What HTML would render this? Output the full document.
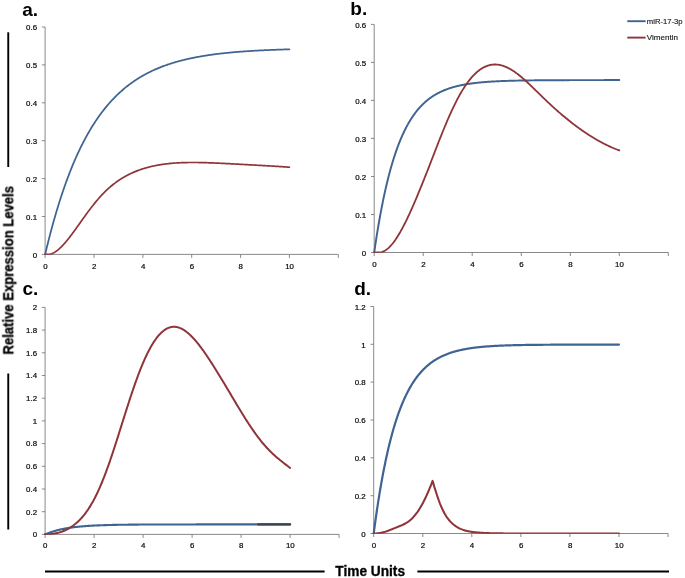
<!DOCTYPE html>
<html><head><meta charset="utf-8"><title>Figure</title>
<style>html,body{margin:0;padding:0;background:#fff}body{width:685px;height:578px;overflow:hidden;font-family:"Liberation Sans",sans-serif}</style>
</head><body>
<svg width="685" height="578" viewBox="0 0 685 578" style="display:block">
<rect width="685" height="578" fill="#fff"/>
<g stroke="#7c7c7c" stroke-width="0.9" fill="none">
<path d="M45.1,27.0 V254.4 H338.3"/>
<path d="M41.9,254.4 H45.1"/>
<path d="M41.9,216.5 H45.1"/>
<path d="M41.9,178.6 H45.1"/>
<path d="M41.9,140.7 H45.1"/>
<path d="M41.9,102.8 H45.1"/>
<path d="M41.9,64.9 H45.1"/>
<path d="M41.9,27.0 H45.1"/>
<path d="M45.1,254.4 V257.9"/>
<path d="M94.0,254.4 V257.9"/>
<path d="M142.9,254.4 V257.9"/>
<path d="M191.7,254.4 V257.9"/>
<path d="M240.6,254.4 V257.9"/>
<path d="M289.4,254.4 V257.9"/>
<path d="M338.3,254.4 V257.9"/>
</g>
<g font-family="Liberation Sans, sans-serif" font-size="7.9" fill="#0a0a0a" stroke="#0a0a0a" stroke-width="0.22" style="filter:grayscale(1)">
<text x="37.1" y="257.6" text-anchor="end">0</text>
<text x="37.1" y="219.7" text-anchor="end">0.1</text>
<text x="37.1" y="181.8" text-anchor="end">0.2</text>
<text x="37.1" y="143.9" text-anchor="end">0.3</text>
<text x="37.1" y="106.0" text-anchor="end">0.4</text>
<text x="37.1" y="68.1" text-anchor="end">0.5</text>
<text x="37.1" y="30.2" text-anchor="end">0.6</text>
<text x="45.4" y="269.0" text-anchor="middle">0</text>
<text x="94.2" y="269.0" text-anchor="middle">2</text>
<text x="143.1" y="269.0" text-anchor="middle">4</text>
<text x="191.9" y="269.0" text-anchor="middle">6</text>
<text x="240.8" y="269.0" text-anchor="middle">8</text>
<text x="289.6" y="269.0" text-anchor="middle">10</text>
</g>
<clipPath id="cpa"><rect x="42.1" y="15.0" width="299.2" height="239.7"/></clipPath>
<g clip-path="url(#cpa)">
<path d="M45.15,254.40 L45.76,251.82 L46.37,249.27 L46.99,246.75 L47.60,244.27 L48.21,241.81 L48.82,239.39 L49.44,237.00 L50.05,234.63 L50.66,232.30 L51.27,229.99 L51.89,227.72 L52.50,225.47 L53.11,223.25 L53.72,221.06 L54.33,218.90 L54.95,216.76 L55.56,214.65 L56.17,212.56 L56.78,210.51 L57.40,208.47 L58.01,206.47 L58.62,204.49 L59.23,202.53 L59.84,200.60 L60.46,198.69 L61.07,196.80 L61.68,194.94 L62.29,193.10 L62.91,191.29 L63.52,189.50 L64.13,187.73 L64.74,185.98 L65.36,184.25 L65.97,182.55 L66.58,180.87 L67.19,179.21 L67.80,177.57 L68.42,175.94 L69.03,174.34 L69.64,172.76 L70.25,171.20 L70.87,169.66 L71.48,168.14 L72.09,166.64 L72.70,165.16 L73.31,163.69 L73.93,162.24 L74.54,160.81 L75.15,159.40 L75.76,158.01 L76.38,156.63 L76.99,155.27 L77.60,153.93 L78.21,152.61 L78.83,151.30 L79.44,150.01 L80.05,148.73 L80.66,147.47 L81.27,146.23 L81.89,145.00 L82.50,143.79 L83.11,142.59 L83.72,141.40 L84.34,140.24 L84.95,139.08 L85.56,137.94 L86.17,136.82 L86.79,135.71 L87.40,134.61 L88.01,133.53 L88.62,132.46 L89.23,131.40 L89.85,130.36 L90.46,129.33 L91.07,128.31 L91.68,127.31 L92.30,126.31 L92.91,125.33 L93.52,124.37 L94.13,123.41 L94.74,122.47 L95.36,121.54 L95.97,120.62 L96.58,119.71 L97.19,118.81 L97.81,117.92 L98.42,117.05 L99.03,116.19 L99.64,115.33 L100.26,114.49 L100.87,113.66 L101.48,112.84 L102.09,112.03 L102.70,111.23 L103.32,110.43 L103.93,109.65 L104.54,108.88 L105.15,108.12 L105.77,107.37 L106.38,106.63 L106.99,105.89 L107.60,105.17 L108.21,104.45 L108.83,103.75 L109.44,103.05 L110.05,102.36 L110.66,101.68 L111.28,101.01 L111.89,100.34 L112.50,99.69 L113.11,99.04 L113.73,98.40 L114.34,97.77 L114.95,97.15 L115.56,96.54 L116.17,95.93 L116.79,95.33 L117.40,94.74 L118.01,94.15 L118.62,93.57 L119.24,93.00 L119.85,92.44 L120.46,91.88 L121.07,91.34 L121.69,90.79 L122.30,90.26 L122.91,89.73 L123.52,89.21 L124.13,88.69 L124.75,88.18 L125.36,87.68 L125.97,87.18 L126.58,86.69 L127.20,86.21 L127.81,85.73 L128.42,85.26 L129.03,84.79 L129.64,84.33 L130.26,83.88 L130.87,83.43 L131.48,82.98 L132.09,82.54 L132.71,82.11 L133.32,81.69 L133.93,81.26 L134.54,80.85 L135.16,80.44 L135.77,80.03 L136.38,79.63 L136.99,79.23 L137.60,78.84 L138.22,78.46 L138.83,78.07 L139.44,77.70 L140.05,77.33 L140.67,76.96 L141.28,76.60 L141.89,76.24 L142.50,75.88 L143.11,75.54 L143.73,75.19 L144.34,74.85 L144.95,74.51 L145.56,74.18 L146.18,73.85 L146.79,73.53 L147.40,73.21 L148.01,72.90 L148.63,72.58 L149.24,72.28 L149.85,71.97 L150.46,71.67 L151.07,71.37 L151.69,71.08 L152.30,70.79 L152.91,70.51 L153.52,70.23 L154.14,69.95 L154.75,69.67 L155.36,69.40 L155.97,69.13 L156.59,68.87 L157.20,68.61 L157.81,68.35 L158.42,68.09 L159.03,67.84 L159.65,67.59 L160.26,67.35 L160.87,67.11 L161.48,66.87 L162.10,66.63 L162.71,66.40 L163.32,66.17 L163.93,65.94 L164.54,65.71 L165.16,65.49 L165.77,65.27 L166.38,65.06 L166.99,64.84 L167.61,64.63 L168.22,64.42 L168.83,64.22 L169.44,64.01 L170.06,63.81 L170.67,63.61 L171.28,63.42 L171.89,63.23 L172.50,63.03 L173.12,62.85 L173.73,62.66 L174.34,62.48 L174.95,62.29 L175.57,62.12 L176.18,61.94 L176.79,61.76 L177.40,61.59 L178.01,61.42 L178.63,61.25 L179.24,61.09 L179.85,60.92 L180.46,60.76 L181.08,60.60 L181.69,60.44 L182.30,60.29 L182.91,60.13 L183.53,59.98 L184.14,59.83 L184.75,59.68 L185.36,59.53 L185.97,59.39 L186.59,59.25 L187.20,59.11 L187.81,58.97 L188.42,58.83 L189.04,58.69 L189.65,58.56 L190.26,58.43 L190.87,58.29 L191.49,58.17 L192.10,58.04 L192.71,57.91 L193.32,57.79 L193.93,57.66 L194.55,57.54 L195.16,57.42 L195.77,57.30 L196.38,57.19 L197.00,57.07 L197.61,56.96 L198.22,56.85 L198.83,56.74 L199.44,56.63 L200.06,56.52 L200.67,56.41 L201.28,56.30 L201.89,56.20 L202.51,56.10 L203.12,56.00 L203.73,55.89 L204.34,55.80 L204.96,55.70 L205.57,55.60 L206.18,55.51 L206.79,55.41 L207.40,55.32 L208.02,55.23 L208.63,55.13 L209.24,55.05 L209.85,54.96 L210.47,54.87 L211.08,54.78 L211.69,54.70 L212.30,54.61 L212.91,54.53 L213.53,54.45 L214.14,54.37 L214.75,54.29 L215.36,54.21 L215.98,54.13 L216.59,54.05 L217.20,53.98 L217.81,53.90 L218.43,53.83 L219.04,53.75 L219.65,53.68 L220.26,53.61 L220.87,53.54 L221.49,53.47 L222.10,53.40 L222.71,53.33 L223.32,53.26 L223.94,53.20 L224.55,53.13 L225.16,53.07 L225.77,53.00 L226.39,52.94 L227.00,52.88 L227.61,52.82 L228.22,52.76 L228.83,52.70 L229.45,52.64 L230.06,52.58 L230.67,52.52 L231.28,52.46 L231.90,52.41 L232.51,52.35 L233.12,52.30 L233.73,52.24 L234.34,52.19 L234.96,52.14 L235.57,52.08 L236.18,52.03 L236.79,51.98 L237.41,51.93 L238.02,51.88 L238.63,51.83 L239.24,51.78 L239.86,51.74 L240.47,51.69 L241.08,51.64 L241.69,51.60 L242.30,51.55 L242.92,51.51 L243.53,51.46 L244.14,51.42 L244.75,51.37 L245.37,51.33 L245.98,51.29 L246.59,51.25 L247.20,51.21 L247.81,51.17 L248.43,51.13 L249.04,51.09 L249.65,51.05 L250.26,51.01 L250.88,50.97 L251.49,50.93 L252.10,50.90 L252.71,50.86 L253.33,50.82 L253.94,50.79 L254.55,50.75 L255.16,50.72 L255.77,50.68 L256.39,50.65 L257.00,50.61 L257.61,50.58 L258.22,50.55 L258.84,50.52 L259.45,50.48 L260.06,50.45 L260.67,50.42 L261.29,50.39 L261.90,50.36 L262.51,50.33 L263.12,50.30 L263.73,50.27 L264.35,50.24 L264.96,50.21 L265.57,50.19 L266.18,50.16 L266.80,50.13 L267.41,50.10 L268.02,50.08 L268.63,50.05 L269.24,50.02 L269.86,50.00 L270.47,49.97 L271.08,49.95 L271.69,49.92 L272.31,49.90 L272.92,49.87 L273.53,49.85 L274.14,49.83 L274.76,49.80 L275.37,49.78 L275.98,49.76 L276.59,49.73 L277.20,49.71 L277.82,49.69 L278.43,49.67 L279.04,49.65 L279.65,49.63 L280.27,49.61 L280.88,49.58 L281.49,49.56 L282.10,49.54 L282.71,49.52 L283.33,49.50 L283.94,49.49 L284.55,49.47 L285.16,49.45 L285.78,49.43 L286.39,49.41 L287.00,49.39 L287.61,49.37 L288.23,49.36 L288.84,49.34 L289.45,49.32" fill="none" stroke="#3F6491" stroke-width="1.75" stroke-linecap="round" stroke-linejoin="round"/>
<path d="M45.15,254.40 L45.76,254.40 L46.37,254.40 L46.99,254.40 L47.60,254.40 L48.21,254.40 L48.82,254.40 L49.44,254.40 L50.05,254.35 L50.66,254.15 L51.27,253.92 L51.89,253.67 L52.50,253.39 L53.11,253.09 L53.72,252.77 L54.33,252.42 L54.95,252.04 L55.56,251.64 L56.17,251.22 L56.78,250.78 L57.40,250.31 L58.01,249.82 L58.62,249.30 L59.23,248.77 L59.84,248.22 L60.46,247.65 L61.07,247.05 L61.68,246.44 L62.29,245.82 L62.91,245.17 L63.52,244.51 L64.13,243.84 L64.74,243.15 L65.36,242.44 L65.97,241.72 L66.58,240.99 L67.19,240.25 L67.80,239.50 L68.42,238.73 L69.03,237.96 L69.64,237.17 L70.25,236.38 L70.87,235.58 L71.48,234.77 L72.09,233.95 L72.70,233.12 L73.31,232.29 L73.93,231.46 L74.54,230.62 L75.15,229.77 L75.76,228.92 L76.38,228.07 L76.99,227.22 L77.60,226.36 L78.21,225.50 L78.83,224.64 L79.44,223.78 L80.05,222.91 L80.66,222.05 L81.27,221.19 L81.89,220.33 L82.50,219.47 L83.11,218.61 L83.72,217.76 L84.34,216.90 L84.95,216.05 L85.56,215.21 L86.17,214.36 L86.79,213.53 L87.40,212.69 L88.01,211.86 L88.62,211.04 L89.23,210.22 L89.85,209.41 L90.46,208.60 L91.07,207.80 L91.68,207.00 L92.30,206.22 L92.91,205.44 L93.52,204.66 L94.13,203.90 L94.74,203.14 L95.36,202.39 L95.97,201.65 L96.58,200.91 L97.19,200.19 L97.81,199.47 L98.42,198.76 L99.03,198.06 L99.64,197.37 L100.26,196.69 L100.87,196.02 L101.48,195.36 L102.09,194.70 L102.70,194.06 L103.32,193.42 L103.93,192.79 L104.54,192.18 L105.15,191.57 L105.77,190.97 L106.38,190.38 L106.99,189.80 L107.60,189.23 L108.21,188.67 L108.83,188.12 L109.44,187.58 L110.05,187.05 L110.66,186.52 L111.28,186.01 L111.89,185.50 L112.50,185.00 L113.11,184.51 L113.73,184.03 L114.34,183.55 L114.95,183.09 L115.56,182.63 L116.17,182.18 L116.79,181.74 L117.40,181.30 L118.01,180.88 L118.62,180.46 L119.24,180.05 L119.85,179.64 L120.46,179.24 L121.07,178.85 L121.69,178.47 L122.30,178.09 L122.91,177.72 L123.52,177.36 L124.13,177.00 L124.75,176.65 L125.36,176.31 L125.97,175.97 L126.58,175.64 L127.20,175.32 L127.81,175.00 L128.42,174.68 L129.03,174.38 L129.64,174.07 L130.26,173.78 L130.87,173.49 L131.48,173.20 L132.09,172.92 L132.71,172.65 L133.32,172.38 L133.93,172.11 L134.54,171.86 L135.16,171.60 L135.77,171.35 L136.38,171.11 L136.99,170.87 L137.60,170.64 L138.22,170.41 L138.83,170.18 L139.44,169.96 L140.05,169.74 L140.67,169.53 L141.28,169.33 L141.89,169.12 L142.50,168.92 L143.11,168.73 L143.73,168.54 L144.34,168.35 L144.95,168.17 L145.56,167.99 L146.18,167.81 L146.79,167.64 L147.40,167.48 L148.01,167.31 L148.63,167.15 L149.24,166.99 L149.85,166.84 L150.46,166.69 L151.07,166.54 L151.69,166.40 L152.30,166.26 L152.91,166.13 L153.52,165.99 L154.14,165.86 L154.75,165.74 L155.36,165.61 L155.97,165.49 L156.59,165.37 L157.20,165.26 L157.81,165.15 L158.42,165.04 L159.03,164.93 L159.65,164.83 L160.26,164.73 L160.87,164.63 L161.48,164.54 L162.10,164.44 L162.71,164.35 L163.32,164.27 L163.93,164.18 L164.54,164.10 L165.16,164.02 L165.77,163.94 L166.38,163.87 L166.99,163.80 L167.61,163.73 L168.22,163.66 L168.83,163.59 L169.44,163.53 L170.06,163.47 L170.67,163.41 L171.28,163.35 L171.89,163.30 L172.50,163.25 L173.12,163.20 L173.73,163.15 L174.34,163.10 L174.95,163.06 L175.57,163.02 L176.18,162.98 L176.79,162.94 L177.40,162.90 L178.01,162.86 L178.63,162.83 L179.24,162.80 L179.85,162.77 L180.46,162.74 L181.08,162.71 L181.69,162.69 L182.30,162.67 L182.91,162.64 L183.53,162.62 L184.14,162.60 L184.75,162.59 L185.36,162.57 L185.97,162.56 L186.59,162.54 L187.20,162.53 L187.81,162.52 L188.42,162.51 L189.04,162.50 L189.65,162.50 L190.26,162.49 L190.87,162.49 L191.49,162.48 L192.10,162.48 L192.71,162.48 L193.32,162.48 L193.93,162.48 L194.55,162.48 L195.16,162.49 L195.77,162.49 L196.38,162.50 L197.00,162.50 L197.61,162.51 L198.22,162.52 L198.83,162.53 L199.44,162.54 L200.06,162.55 L200.67,162.56 L201.28,162.57 L201.89,162.59 L202.51,162.60 L203.12,162.62 L203.73,162.63 L204.34,162.65 L204.96,162.67 L205.57,162.68 L206.18,162.70 L206.79,162.72 L207.40,162.74 L208.02,162.76 L208.63,162.78 L209.24,162.80 L209.85,162.82 L210.47,162.85 L211.08,162.87 L211.69,162.89 L212.30,162.92 L212.91,162.94 L213.53,162.97 L214.14,162.99 L214.75,163.02 L215.36,163.04 L215.98,163.07 L216.59,163.10 L217.20,163.12 L217.81,163.15 L218.43,163.18 L219.04,163.21 L219.65,163.23 L220.26,163.26 L220.87,163.29 L221.49,163.32 L222.10,163.35 L222.71,163.38 L223.32,163.41 L223.94,163.44 L224.55,163.47 L225.16,163.50 L225.77,163.53 L226.39,163.57 L227.00,163.60 L227.61,163.63 L228.22,163.66 L228.83,163.69 L229.45,163.72 L230.06,163.76 L230.67,163.79 L231.28,163.82 L231.90,163.85 L232.51,163.89 L233.12,163.92 L233.73,163.95 L234.34,163.98 L234.96,164.02 L235.57,164.05 L236.18,164.08 L236.79,164.12 L237.41,164.15 L238.02,164.18 L238.63,164.22 L239.24,164.25 L239.86,164.28 L240.47,164.32 L241.08,164.35 L241.69,164.38 L242.30,164.42 L242.92,164.45 L243.53,164.48 L244.14,164.52 L244.75,164.55 L245.37,164.59 L245.98,164.62 L246.59,164.65 L247.20,164.69 L247.81,164.72 L248.43,164.75 L249.04,164.79 L249.65,164.82 L250.26,164.85 L250.88,164.89 L251.49,164.92 L252.10,164.96 L252.71,164.99 L253.33,165.02 L253.94,165.06 L254.55,165.09 L255.16,165.12 L255.77,165.16 L256.39,165.19 L257.00,165.23 L257.61,165.26 L258.22,165.29 L258.84,165.33 L259.45,165.36 L260.06,165.40 L260.67,165.43 L261.29,165.46 L261.90,165.50 L262.51,165.53 L263.12,165.57 L263.73,165.60 L264.35,165.64 L264.96,165.67 L265.57,165.71 L266.18,165.74 L266.80,165.77 L267.41,165.81 L268.02,165.85 L268.63,165.88 L269.24,165.92 L269.86,165.95 L270.47,165.99 L271.08,166.02 L271.69,166.06 L272.31,166.10 L272.92,166.13 L273.53,166.17 L274.14,166.21 L274.76,166.24 L275.37,166.28 L275.98,166.32 L276.59,166.36 L277.20,166.40 L277.82,166.44 L278.43,166.47 L279.04,166.51 L279.65,166.55 L280.27,166.59 L280.88,166.63 L281.49,166.67 L282.10,166.72 L282.71,166.76 L283.33,166.80 L283.94,166.84 L284.55,166.88 L285.16,166.93 L285.78,166.97 L286.39,167.02 L287.00,167.06 L287.61,167.11 L288.23,167.15 L288.84,167.20 L289.45,167.25" fill="none" stroke="#8F3439" stroke-width="1.7" stroke-linecap="round" stroke-linejoin="round"/>
</g>
<g stroke="#7c7c7c" stroke-width="0.9" fill="none">
<path d="M374.2,24.4 V252.5 H668.3"/>
<path d="M371.0,252.5 H374.2"/>
<path d="M371.0,214.5 H374.2"/>
<path d="M371.0,176.5 H374.2"/>
<path d="M371.0,138.4 H374.2"/>
<path d="M371.0,100.4 H374.2"/>
<path d="M371.0,62.4 H374.2"/>
<path d="M371.0,24.4 H374.2"/>
<path d="M374.2,252.5 V256.0"/>
<path d="M423.2,252.5 V256.0"/>
<path d="M472.2,252.5 V256.0"/>
<path d="M521.3,252.5 V256.0"/>
<path d="M570.3,252.5 V256.0"/>
<path d="M619.3,252.5 V256.0"/>
<path d="M668.3,252.5 V256.0"/>
</g>
<g font-family="Liberation Sans, sans-serif" font-size="7.9" fill="#0a0a0a" stroke="#0a0a0a" stroke-width="0.22" style="filter:grayscale(1)">
<text x="366.2" y="255.7" text-anchor="end">0</text>
<text x="366.2" y="217.7" text-anchor="end">0.1</text>
<text x="366.2" y="179.7" text-anchor="end">0.2</text>
<text x="366.2" y="141.6" text-anchor="end">0.3</text>
<text x="366.2" y="103.6" text-anchor="end">0.4</text>
<text x="366.2" y="65.6" text-anchor="end">0.5</text>
<text x="366.2" y="27.6" text-anchor="end">0.6</text>
<text x="374.4" y="267.1" text-anchor="middle">0</text>
<text x="423.4" y="267.1" text-anchor="middle">2</text>
<text x="472.4" y="267.1" text-anchor="middle">4</text>
<text x="521.5" y="267.1" text-anchor="middle">6</text>
<text x="570.5" y="267.1" text-anchor="middle">8</text>
<text x="619.5" y="267.1" text-anchor="middle">10</text>
</g>
<clipPath id="cpb"><rect x="371.2" y="12.4" width="300.1" height="240.4"/></clipPath>
<g clip-path="url(#cpb)">
<path d="M374.20,252.50 L374.81,248.27 L375.43,244.15 L376.04,240.13 L376.66,236.21 L377.27,232.38 L377.89,228.65 L378.50,225.01 L379.11,221.46 L379.73,217.99 L380.34,214.61 L380.96,211.32 L381.57,208.10 L382.19,204.96 L382.80,201.90 L383.41,198.92 L384.03,196.00 L384.64,193.16 L385.26,190.39 L385.87,187.69 L386.49,185.05 L387.10,182.48 L387.71,179.97 L388.33,177.52 L388.94,175.13 L389.56,172.80 L390.17,170.53 L390.79,168.32 L391.40,166.15 L392.01,164.04 L392.63,161.99 L393.24,159.98 L393.86,158.02 L394.47,156.11 L395.09,154.25 L395.70,152.43 L396.31,150.66 L396.93,148.93 L397.54,147.24 L398.16,145.59 L398.77,143.99 L399.39,142.42 L400.00,140.89 L400.61,139.40 L401.23,137.95 L401.84,136.53 L402.46,135.15 L403.07,133.80 L403.69,132.48 L404.30,131.20 L404.91,129.95 L405.53,128.72 L406.14,127.53 L406.76,126.37 L407.37,125.23 L407.99,124.13 L408.60,123.05 L409.21,121.99 L409.83,120.97 L410.44,119.97 L411.06,118.99 L411.67,118.03 L412.29,117.10 L412.90,116.20 L413.51,115.31 L414.13,114.45 L414.74,113.61 L415.36,112.78 L415.97,111.98 L416.59,111.20 L417.20,110.44 L417.81,109.69 L418.43,108.97 L419.04,108.26 L419.66,107.57 L420.27,106.90 L420.89,106.24 L421.50,105.60 L422.11,104.97 L422.73,104.36 L423.34,103.77 L423.96,103.19 L424.57,102.62 L425.19,102.07 L425.80,101.53 L426.41,101.00 L427.03,100.49 L427.64,99.99 L428.26,99.50 L428.87,99.03 L429.49,98.56 L430.10,98.11 L430.71,97.67 L431.33,97.24 L431.94,96.82 L432.56,96.41 L433.17,96.01 L433.79,95.62 L434.40,95.23 L435.01,94.86 L435.63,94.50 L436.24,94.15 L436.86,93.80 L437.47,93.47 L438.09,93.14 L438.70,92.82 L439.31,92.51 L439.93,92.20 L440.54,91.90 L441.16,91.61 L441.77,91.33 L442.39,91.06 L443.00,90.79 L443.61,90.52 L444.23,90.27 L444.84,90.02 L445.46,89.78 L446.07,89.54 L446.69,89.31 L447.30,89.08 L447.91,88.86 L448.53,88.64 L449.14,88.43 L449.76,88.23 L450.37,88.03 L450.99,87.84 L451.60,87.64 L452.21,87.46 L452.83,87.28 L453.44,87.10 L454.06,86.93 L454.67,86.76 L455.29,86.60 L455.90,86.44 L456.51,86.28 L457.13,86.13 L457.74,85.98 L458.36,85.84 L458.97,85.70 L459.59,85.56 L460.20,85.42 L460.81,85.29 L461.43,85.17 L462.04,85.04 L462.66,84.92 L463.27,84.80 L463.89,84.69 L464.50,84.57 L465.11,84.46 L465.73,84.35 L466.34,84.25 L466.96,84.15 L467.57,84.05 L468.19,83.95 L468.80,83.86 L469.41,83.76 L470.03,83.67 L470.64,83.59 L471.26,83.50 L471.87,83.42 L472.49,83.33 L473.10,83.25 L473.71,83.18 L474.33,83.10 L474.94,83.03 L475.56,82.95 L476.17,82.88 L476.79,82.81 L477.40,82.75 L478.01,82.68 L478.63,82.62 L479.24,82.56 L479.86,82.50 L480.47,82.44 L481.09,82.38 L481.70,82.32 L482.31,82.27 L482.93,82.21 L483.54,82.16 L484.16,82.11 L484.77,82.06 L485.39,82.01 L486.00,81.96 L486.61,81.92 L487.23,81.87 L487.84,81.83 L488.46,81.79 L489.07,81.74 L489.69,81.70 L490.30,81.66 L490.91,81.63 L491.53,81.59 L492.14,81.55 L492.76,81.51 L493.37,81.48 L493.99,81.44 L494.60,81.41 L495.21,81.38 L495.83,81.35 L496.44,81.32 L497.06,81.29 L497.67,81.26 L498.29,81.23 L498.90,81.20 L499.51,81.17 L500.13,81.14 L500.74,81.12 L501.36,81.09 L501.97,81.07 L502.59,81.04 L503.20,81.02 L503.81,81.00 L504.43,80.97 L505.04,80.95 L505.66,80.93 L506.27,80.91 L506.89,80.89 L507.50,80.87 L508.11,80.85 L508.73,80.83 L509.34,80.81 L509.96,80.80 L510.57,80.78 L511.19,80.76 L511.80,80.74 L512.41,80.73 L513.03,80.71 L513.64,80.70 L514.26,80.68 L514.87,80.67 L515.49,80.65 L516.10,80.64 L516.71,80.62 L517.33,80.61 L517.94,80.60 L518.56,80.59 L519.17,80.57 L519.79,80.56 L520.40,80.55 L521.01,80.54 L521.63,80.53 L522.24,80.52 L522.86,80.50 L523.47,80.49 L524.09,80.48 L524.70,80.47 L525.31,80.46 L525.93,80.46 L526.54,80.45 L527.16,80.44 L527.77,80.43 L528.39,80.42 L529.00,80.41 L529.61,80.40 L530.23,80.40 L530.84,80.39 L531.46,80.38 L532.07,80.37 L532.69,80.37 L533.30,80.36 L533.91,80.35 L534.53,80.34 L535.14,80.34 L535.76,80.33 L536.37,80.33 L536.99,80.32 L537.60,80.31 L538.21,80.31 L538.83,80.30 L539.44,80.30 L540.06,80.29 L540.67,80.29 L541.29,80.28 L541.90,80.28 L542.51,80.27 L543.13,80.27 L543.74,80.26 L544.36,80.26 L544.97,80.25 L545.59,80.25 L546.20,80.25 L546.81,80.24 L547.43,80.24 L548.04,80.23 L548.66,80.23 L549.27,80.23 L549.89,80.22 L550.50,80.22 L551.11,80.22 L551.73,80.21 L552.34,80.21 L552.96,80.21 L553.57,80.20 L554.19,80.20 L554.80,80.20 L555.41,80.19 L556.03,80.19 L556.64,80.19 L557.26,80.19 L557.87,80.18 L558.49,80.18 L559.10,80.18 L559.71,80.18 L560.33,80.17 L560.94,80.17 L561.56,80.17 L562.17,80.17 L562.79,80.16 L563.40,80.16 L564.01,80.16 L564.63,80.16 L565.24,80.16 L565.86,80.15 L566.47,80.15 L567.09,80.15 L567.70,80.15 L568.31,80.15 L568.93,80.15 L569.54,80.14 L570.16,80.14 L570.77,80.14 L571.39,80.14 L572.00,80.14 L572.61,80.14 L573.23,80.13 L573.84,80.13 L574.46,80.13 L575.07,80.13 L575.69,80.13 L576.30,80.13 L576.91,80.13 L577.53,80.13 L578.14,80.12 L578.76,80.12 L579.37,80.12 L579.99,80.12 L580.60,80.12 L581.21,80.12 L581.83,80.12 L582.44,80.12 L583.06,80.12 L583.67,80.12 L584.29,80.11 L584.90,80.11 L585.51,80.11 L586.13,80.11 L586.74,80.11 L587.36,80.11 L587.97,80.11 L588.59,80.11 L589.20,80.11 L589.81,80.11 L590.43,80.11 L591.04,80.11 L591.66,80.11 L592.27,80.11 L592.89,80.10 L593.50,80.10 L594.11,80.10 L594.73,80.10 L595.34,80.10 L595.96,80.10 L596.57,80.10 L597.19,80.10 L597.80,80.10 L598.41,80.10 L599.03,80.10 L599.64,80.10 L600.26,80.10 L600.87,80.10 L601.49,80.10 L602.10,80.10 L602.71,80.10 L603.33,80.10 L603.94,80.10 L604.56,80.09 L605.17,80.09 L605.79,80.09 L606.40,80.09 L607.01,80.09 L607.63,80.09 L608.24,80.09 L608.86,80.09 L609.47,80.09 L610.09,80.09 L610.70,80.09 L611.31,80.09 L611.93,80.09 L612.54,80.09 L613.16,80.09 L613.77,80.09 L614.39,80.09 L615.00,80.09 L615.61,80.09 L616.23,80.09 L616.84,80.09 L617.46,80.09 L618.07,80.09 L618.69,80.09 L619.30,80.09" fill="none" stroke="#3F6491" stroke-width="1.95" stroke-linecap="round" stroke-linejoin="round"/>
<path d="M374.20,252.50 L374.81,252.50 L375.43,252.50 L376.04,252.50 L376.66,252.50 L377.27,252.50 L377.89,252.50 L378.50,252.50 L379.11,252.50 L379.73,252.50 L380.34,252.50 L380.96,252.34 L381.57,252.16 L382.19,251.95 L382.80,251.71 L383.41,251.43 L384.03,251.13 L384.64,250.80 L385.26,250.43 L385.87,250.03 L386.49,249.60 L387.10,249.14 L387.71,248.64 L388.33,248.11 L388.94,247.55 L389.56,246.96 L390.17,246.33 L390.79,245.68 L391.40,244.99 L392.01,244.27 L392.63,243.52 L393.24,242.74 L393.86,241.94 L394.47,241.10 L395.09,240.24 L395.70,239.35 L396.31,238.44 L396.93,237.50 L397.54,236.54 L398.16,235.55 L398.77,234.54 L399.39,233.50 L400.00,232.45 L400.61,231.37 L401.23,230.27 L401.84,229.15 L402.46,228.01 L403.07,226.86 L403.69,225.68 L404.30,224.49 L404.91,223.28 L405.53,222.05 L406.14,220.80 L406.76,219.54 L407.37,218.27 L407.99,216.98 L408.60,215.67 L409.21,214.35 L409.83,213.02 L410.44,211.67 L411.06,210.32 L411.67,208.94 L412.29,207.56 L412.90,206.17 L413.51,204.76 L414.13,203.35 L414.74,201.92 L415.36,200.49 L415.97,199.04 L416.59,197.59 L417.20,196.13 L417.81,194.66 L418.43,193.18 L419.04,191.69 L419.66,190.20 L420.27,188.69 L420.89,187.19 L421.50,185.67 L422.11,184.15 L422.73,182.62 L423.34,181.09 L423.96,179.55 L424.57,178.00 L425.19,176.45 L425.80,174.90 L426.41,173.34 L427.03,171.77 L427.64,170.21 L428.26,168.63 L428.87,167.06 L429.49,165.48 L430.10,163.90 L430.71,162.32 L431.33,160.74 L431.94,159.16 L432.56,157.57 L433.17,155.99 L433.79,154.40 L434.40,152.82 L435.01,151.23 L435.63,149.65 L436.24,148.07 L436.86,146.50 L437.47,144.92 L438.09,143.35 L438.70,141.79 L439.31,140.23 L439.93,138.67 L440.54,137.12 L441.16,135.58 L441.77,134.05 L442.39,132.52 L443.00,131.00 L443.61,129.50 L444.23,128.00 L444.84,126.51 L445.46,125.03 L446.07,123.57 L446.69,122.11 L447.30,120.67 L447.91,119.24 L448.53,117.83 L449.14,116.43 L449.76,115.04 L450.37,113.67 L450.99,112.31 L451.60,110.97 L452.21,109.65 L452.83,108.34 L453.44,107.05 L454.06,105.78 L454.67,104.52 L455.29,103.28 L455.90,102.06 L456.51,100.86 L457.13,99.67 L457.74,98.50 L458.36,97.36 L458.97,96.23 L459.59,95.12 L460.20,94.03 L460.81,92.96 L461.43,91.91 L462.04,90.88 L462.66,89.87 L463.27,88.88 L463.89,87.92 L464.50,86.97 L465.11,86.04 L465.73,85.13 L466.34,84.24 L466.96,83.37 L467.57,82.52 L468.19,81.70 L468.80,80.89 L469.41,80.10 L470.03,79.33 L470.64,78.59 L471.26,77.86 L471.87,77.15 L472.49,76.46 L473.10,75.80 L473.71,75.15 L474.33,74.52 L474.94,73.92 L475.56,73.33 L476.17,72.76 L476.79,72.21 L477.40,71.68 L478.01,71.17 L478.63,70.69 L479.24,70.22 L479.86,69.76 L480.47,69.33 L481.09,68.92 L481.70,68.53 L482.31,68.15 L482.93,67.80 L483.54,67.46 L484.16,67.14 L484.77,66.84 L485.39,66.56 L486.00,66.30 L486.61,66.05 L487.23,65.83 L487.84,65.62 L488.46,65.43 L489.07,65.26 L489.69,65.10 L490.30,64.97 L490.91,64.85 L491.53,64.74 L492.14,64.66 L492.76,64.59 L493.37,64.54 L493.99,64.50 L494.60,64.49 L495.21,64.48 L495.83,64.50 L496.44,64.53 L497.06,64.58 L497.67,64.64 L498.29,64.72 L498.90,64.81 L499.51,64.92 L500.13,65.04 L500.74,65.18 L501.36,65.34 L501.97,65.50 L502.59,65.69 L503.20,65.88 L503.81,66.09 L504.43,66.32 L505.04,66.56 L505.66,66.81 L506.27,67.07 L506.89,67.35 L507.50,67.64 L508.11,67.94 L508.73,68.26 L509.34,68.58 L509.96,68.92 L510.57,69.27 L511.19,69.63 L511.80,70.01 L512.41,70.39 L513.03,70.79 L513.64,71.19 L514.26,71.61 L514.87,72.03 L515.49,72.47 L516.10,72.91 L516.71,73.36 L517.33,73.83 L517.94,74.30 L518.56,74.78 L519.17,75.26 L519.79,75.76 L520.40,76.26 L521.01,76.77 L521.63,77.29 L522.24,77.81 L522.86,78.34 L523.47,78.88 L524.09,79.42 L524.70,79.97 L525.31,80.52 L525.93,81.08 L526.54,81.64 L527.16,82.20 L527.77,82.77 L528.39,83.35 L529.00,83.93 L529.61,84.51 L530.23,85.09 L530.84,85.68 L531.46,86.26 L532.07,86.86 L532.69,87.45 L533.30,88.04 L533.91,88.64 L534.53,89.23 L535.14,89.83 L535.76,90.43 L536.37,91.03 L536.99,91.63 L537.60,92.23 L538.21,92.83 L538.83,93.43 L539.44,94.03 L540.06,94.63 L540.67,95.23 L541.29,95.82 L541.90,96.42 L542.51,97.02 L543.13,97.61 L543.74,98.20 L544.36,98.79 L544.97,99.38 L545.59,99.97 L546.20,100.56 L546.81,101.14 L547.43,101.72 L548.04,102.31 L548.66,102.88 L549.27,103.46 L549.89,104.03 L550.50,104.60 L551.11,105.17 L551.73,105.74 L552.34,106.30 L552.96,106.87 L553.57,107.43 L554.19,107.98 L554.80,108.54 L555.41,109.09 L556.03,109.64 L556.64,110.18 L557.26,110.73 L557.87,111.27 L558.49,111.81 L559.10,112.34 L559.71,112.87 L560.33,113.40 L560.94,113.93 L561.56,114.46 L562.17,114.98 L562.79,115.50 L563.40,116.02 L564.01,116.53 L564.63,117.04 L565.24,117.55 L565.86,118.06 L566.47,118.56 L567.09,119.06 L567.70,119.56 L568.31,120.06 L568.93,120.55 L569.54,121.04 L570.16,121.52 L570.77,122.01 L571.39,122.49 L572.00,122.97 L572.61,123.44 L573.23,123.92 L573.84,124.39 L574.46,124.85 L575.07,125.32 L575.69,125.78 L576.30,126.24 L576.91,126.69 L577.53,127.15 L578.14,127.60 L578.76,128.04 L579.37,128.49 L579.99,128.93 L580.60,129.36 L581.21,129.80 L581.83,130.23 L582.44,130.66 L583.06,131.09 L583.67,131.51 L584.29,131.93 L584.90,132.35 L585.51,132.76 L586.13,133.17 L586.74,133.58 L587.36,133.98 L587.97,134.38 L588.59,134.78 L589.20,135.18 L589.81,135.57 L590.43,135.96 L591.04,136.34 L591.66,136.73 L592.27,137.11 L592.89,137.48 L593.50,137.85 L594.11,138.22 L594.73,138.59 L595.34,138.95 L595.96,139.31 L596.57,139.67 L597.19,140.02 L597.80,140.37 L598.41,140.72 L599.03,141.06 L599.64,141.40 L600.26,141.74 L600.87,142.07 L601.49,142.40 L602.10,142.73 L602.71,143.05 L603.33,143.37 L603.94,143.69 L604.56,144.00 L605.17,144.31 L605.79,144.61 L606.40,144.91 L607.01,145.21 L607.63,145.51 L608.24,145.80 L608.86,146.09 L609.47,146.37 L610.09,146.65 L610.70,146.93 L611.31,147.20 L611.93,147.47 L612.54,147.74 L613.16,148.00 L613.77,148.26 L614.39,148.51 L615.00,148.76 L615.61,149.01 L616.23,149.25 L616.84,149.49 L617.46,149.73 L618.07,149.96 L618.69,150.19 L619.30,150.41" fill="none" stroke="#8F3439" stroke-width="1.8" stroke-linecap="round" stroke-linejoin="round"/>
</g>
<g stroke="#7c7c7c" stroke-width="0.9" fill="none">
<path d="M45.1,307.4 V534.4 H339.1"/>
<path d="M41.9,534.4 H45.1"/>
<path d="M41.9,511.7 H45.1"/>
<path d="M41.9,489.0 H45.1"/>
<path d="M41.9,466.3 H45.1"/>
<path d="M41.9,443.6 H45.1"/>
<path d="M41.9,420.9 H45.1"/>
<path d="M41.9,398.2 H45.1"/>
<path d="M41.9,375.5 H45.1"/>
<path d="M41.9,352.8 H45.1"/>
<path d="M41.9,330.1 H45.1"/>
<path d="M41.9,307.4 H45.1"/>
<path d="M45.1,534.4 V537.9"/>
<path d="M94.1,534.4 V537.9"/>
<path d="M143.1,534.4 V537.9"/>
<path d="M192.1,534.4 V537.9"/>
<path d="M241.1,534.4 V537.9"/>
<path d="M290.1,534.4 V537.9"/>
<path d="M339.1,534.4 V537.9"/>
</g>
<g font-family="Liberation Sans, sans-serif" font-size="7.9" fill="#0a0a0a" stroke="#0a0a0a" stroke-width="0.22" style="filter:grayscale(1)">
<text x="37.1" y="537.2" text-anchor="end">0</text>
<text x="37.1" y="514.5" text-anchor="end">0.2</text>
<text x="37.1" y="491.8" text-anchor="end">0.4</text>
<text x="37.1" y="469.1" text-anchor="end">0.6</text>
<text x="37.1" y="446.4" text-anchor="end">0.8</text>
<text x="37.1" y="423.7" text-anchor="end">1</text>
<text x="37.1" y="401.0" text-anchor="end">1.2</text>
<text x="37.1" y="378.3" text-anchor="end">1.4</text>
<text x="37.1" y="355.6" text-anchor="end">1.6</text>
<text x="37.1" y="332.9" text-anchor="end">1.8</text>
<text x="37.1" y="310.2" text-anchor="end">2</text>
<text x="45.3" y="548.1" text-anchor="middle">0</text>
<text x="94.3" y="548.1" text-anchor="middle">2</text>
<text x="143.3" y="548.1" text-anchor="middle">4</text>
<text x="192.3" y="548.1" text-anchor="middle">6</text>
<text x="241.3" y="548.1" text-anchor="middle">8</text>
<text x="290.3" y="548.1" text-anchor="middle">10</text>
</g>
<clipPath id="cpc"><rect x="42.1" y="295.4" width="300.0" height="239.3"/></clipPath>
<g clip-path="url(#cpc)">
<path d="M45.10,534.40 L45.71,534.13 L46.33,533.87 L46.94,533.62 L47.56,533.38 L48.17,533.14 L48.78,532.90 L49.40,532.68 L50.01,532.46 L50.63,532.24 L51.24,532.03 L51.85,531.83 L52.47,531.63 L53.08,531.44 L53.70,531.25 L54.31,531.07 L54.92,530.89 L55.54,530.72 L56.15,530.55 L56.77,530.38 L57.38,530.22 L57.99,530.07 L58.61,529.92 L59.22,529.77 L59.84,529.63 L60.45,529.49 L61.06,529.35 L61.68,529.22 L62.29,529.09 L62.91,528.97 L63.52,528.85 L64.14,528.73 L64.75,528.61 L65.36,528.50 L65.98,528.39 L66.59,528.28 L67.21,528.18 L67.82,528.08 L68.43,527.98 L69.05,527.89 L69.66,527.79 L70.28,527.70 L70.89,527.62 L71.50,527.53 L72.12,527.45 L72.73,527.37 L73.35,527.29 L73.96,527.21 L74.57,527.14 L75.19,527.06 L75.80,526.99 L76.42,526.92 L77.03,526.86 L77.64,526.79 L78.26,526.73 L78.87,526.67 L79.49,526.61 L80.10,526.55 L80.71,526.49 L81.33,526.43 L81.94,526.38 L82.56,526.33 L83.17,526.28 L83.78,526.23 L84.40,526.18 L85.01,526.13 L85.63,526.09 L86.24,526.04 L86.85,526.00 L87.47,525.95 L88.08,525.91 L88.70,525.87 L89.31,525.83 L89.92,525.80 L90.54,525.76 L91.15,525.72 L91.77,525.69 L92.38,525.65 L92.99,525.62 L93.61,525.59 L94.22,525.56 L94.84,525.53 L95.45,525.50 L96.06,525.47 L96.68,525.44 L97.29,525.41 L97.91,525.39 L98.52,525.36 L99.14,525.33 L99.75,525.31 L100.36,525.29 L100.98,525.26 L101.59,525.24 L102.21,525.22 L102.82,525.20 L103.43,525.18 L104.05,525.15 L104.66,525.14 L105.28,525.12 L105.89,525.10 L106.50,525.08 L107.12,525.06 L107.73,525.04 L108.35,525.03 L108.96,525.01 L109.57,524.99 L110.19,524.98 L110.80,524.96 L111.42,524.95 L112.03,524.93 L112.64,524.92 L113.26,524.91 L113.87,524.89 L114.49,524.88 L115.10,524.87 L115.71,524.86 L116.33,524.84 L116.94,524.83 L117.56,524.82 L118.17,524.81 L118.78,524.80 L119.40,524.79 L120.01,524.78 L120.63,524.77 L121.24,524.76 L121.85,524.75 L122.47,524.74 L123.08,524.73 L123.70,524.72 L124.31,524.72 L124.92,524.71 L125.54,524.70 L126.15,524.69 L126.77,524.68 L127.38,524.68 L127.99,524.67 L128.61,524.66 L129.22,524.66 L129.84,524.65 L130.45,524.64 L131.06,524.64 L131.68,524.63 L132.29,524.63 L132.91,524.62 L133.52,524.61 L134.14,524.61 L134.75,524.60 L135.36,524.60 L135.98,524.59 L136.59,524.59 L137.21,524.58 L137.82,524.58 L138.43,524.58 L139.05,524.57 L139.66,524.57 L140.28,524.56 L140.89,524.56 L141.50,524.55 L142.12,524.55 L142.73,524.55 L143.35,524.54 L143.96,524.54 L144.57,524.54 L145.19,524.53 L145.80,524.53 L146.42,524.53 L147.03,524.52 L147.64,524.52 L148.26,524.52 L148.87,524.51 L149.49,524.51 L150.10,524.51 L150.71,524.51 L151.33,524.50 L151.94,524.50 L152.56,524.50 L153.17,524.50 L153.78,524.49 L154.40,524.49 L155.01,524.49 L155.63,524.49 L156.24,524.49 L156.85,524.48 L157.47,524.48 L158.08,524.48 L158.70,524.48 L159.31,524.48 L159.92,524.48 L160.54,524.47 L161.15,524.47 L161.77,524.47 L162.38,524.47 L162.99,524.47 L163.61,524.47 L164.22,524.46 L164.84,524.46 L165.45,524.46 L166.06,524.46 L166.68,524.46 L167.29,524.46 L167.91,524.46 L168.52,524.46 L169.14,524.45 L169.75,524.45 L170.36,524.45 L170.98,524.45 L171.59,524.45 L172.21,524.45 L172.82,524.45 L173.43,524.45 L174.05,524.45 L174.66,524.45 L175.28,524.44 L175.89,524.44 L176.50,524.44 L177.12,524.44 L177.73,524.44 L178.35,524.44 L178.96,524.44 L179.57,524.44 L180.19,524.44 L180.80,524.44 L181.42,524.44 L182.03,524.44 L182.64,524.44 L183.26,524.43 L183.87,524.43 L184.49,524.43 L185.10,524.43 L185.71,524.43 L186.33,524.43 L186.94,524.43 L187.56,524.43 L188.17,524.43 L188.78,524.43 L189.40,524.43 L190.01,524.43 L190.63,524.43 L191.24,524.43 L191.85,524.43 L192.47,524.43 L193.08,524.43 L193.70,524.43 L194.31,524.43 L194.92,524.43 L195.54,524.43 L196.15,524.42 L196.77,524.42 L197.38,524.42 L197.99,524.42 L198.61,524.42 L199.22,524.42 L199.84,524.42 L200.45,524.42 L201.06,524.42 L201.68,524.42 L202.29,524.42 L202.91,524.42 L203.52,524.42 L204.14,524.42 L204.75,524.42 L205.36,524.42 L205.98,524.42 L206.59,524.42 L207.21,524.42 L207.82,524.42 L208.43,524.42 L209.05,524.42 L209.66,524.42 L210.28,524.42 L210.89,524.42 L211.50,524.42 L212.12,524.42 L212.73,524.42 L213.35,524.42 L213.96,524.42 L214.57,524.42 L215.19,524.42 L215.80,524.42 L216.42,524.42 L217.03,524.42 L217.64,524.42 L218.26,524.42 L218.87,524.42 L219.49,524.42 L220.10,524.42 L220.71,524.42 L221.33,524.42 L221.94,524.42 L222.56,524.42 L223.17,524.42 L223.78,524.42 L224.40,524.42 L225.01,524.42 L225.63,524.42 L226.24,524.42 L226.85,524.42 L227.47,524.42 L228.08,524.42 L228.70,524.42 L229.31,524.41 L229.92,524.41 L230.54,524.41 L231.15,524.41 L231.77,524.41 L232.38,524.41 L232.99,524.41 L233.61,524.41 L234.22,524.41 L234.84,524.41 L235.45,524.41 L236.06,524.41 L236.68,524.41 L237.29,524.41 L237.91,524.41 L238.52,524.41 L239.14,524.41 L239.75,524.41 L240.36,524.41 L240.98,524.41 L241.59,524.41 L242.21,524.41 L242.82,524.41 L243.43,524.41 L244.05,524.41 L244.66,524.41 L245.28,524.41 L245.89,524.41 L246.50,524.41 L247.12,524.41 L247.73,524.41 L248.35,524.41 L248.96,524.41 L249.57,524.41 L250.19,524.41 L250.80,524.41 L251.42,524.41 L252.03,524.41 L252.64,524.41 L253.26,524.41 L253.87,524.41 L254.49,524.41 L255.10,524.41 L255.71,524.41 L256.33,524.41 L256.94,524.41 L257.56,524.41 L258.17,524.41 L258.78,524.41 L259.40,524.41 L260.01,524.41 L260.63,524.41 L261.24,524.41 L261.85,524.41 L262.47,524.41 L263.08,524.41 L263.70,524.41 L264.31,524.41 L264.92,524.41 L265.54,524.41 L266.15,524.41 L266.77,524.41 L267.38,524.41 L267.99,524.41 L268.61,524.41 L269.22,524.41 L269.84,524.41 L270.45,524.41 L271.06,524.41 L271.68,524.41 L272.29,524.41 L272.91,524.41 L273.52,524.41 L274.14,524.41 L274.75,524.41 L275.36,524.41 L275.98,524.41 L276.59,524.41 L277.21,524.41 L277.82,524.41 L278.43,524.41 L279.05,524.41 L279.66,524.41 L280.28,524.41 L280.89,524.41 L281.50,524.41 L282.12,524.41 L282.73,524.41 L283.35,524.41 L283.96,524.41 L284.57,524.41 L285.19,524.41 L285.80,524.41 L286.42,524.41 L287.03,524.41 L287.64,524.41 L288.26,524.41 L288.87,524.41 L289.49,524.41 L290.10,524.41" fill="none" stroke="#3F6491" stroke-width="2.1" stroke-linecap="round" stroke-linejoin="round"/>
<path d="M45.10,534.27 L45.71,534.27 L46.33,534.26 L46.94,534.25 L47.56,534.23 L48.17,534.21 L48.78,534.18 L49.40,534.14 L50.01,534.10 L50.63,534.04 L51.24,533.98 L51.85,533.92 L52.47,533.84 L53.08,533.76 L53.70,533.67 L54.31,533.57 L54.92,533.47 L55.54,533.35 L56.15,533.23 L56.77,533.09 L57.38,532.95 L57.99,532.80 L58.61,532.64 L59.22,532.48 L59.84,532.30 L60.45,532.11 L61.06,531.91 L61.68,531.70 L62.29,531.48 L62.91,531.25 L63.52,531.01 L64.14,530.76 L64.75,530.50 L65.36,530.23 L65.98,529.94 L66.59,529.64 L67.21,529.33 L67.82,529.01 L68.43,528.68 L69.05,528.33 L69.66,527.97 L70.28,527.59 L70.89,527.20 L71.50,526.80 L72.12,526.38 L72.73,525.95 L73.35,525.50 L73.96,525.04 L74.57,524.56 L75.19,524.07 L75.80,523.56 L76.42,523.04 L77.03,522.49 L77.64,521.93 L78.26,521.36 L78.87,520.76 L79.49,520.15 L80.10,519.52 L80.71,518.87 L81.33,518.20 L81.94,517.51 L82.56,516.80 L83.17,516.08 L83.78,515.33 L84.40,514.56 L85.01,513.77 L85.63,512.96 L86.24,512.12 L86.85,511.27 L87.47,510.39 L88.08,509.48 L88.70,508.56 L89.31,507.61 L89.92,506.64 L90.54,505.64 L91.15,504.61 L91.77,503.56 L92.38,502.49 L92.99,501.39 L93.61,500.26 L94.22,499.11 L94.84,497.93 L95.45,496.73 L96.06,495.50 L96.68,494.24 L97.29,492.96 L97.91,491.65 L98.52,490.31 L99.14,488.95 L99.75,487.56 L100.36,486.14 L100.98,484.70 L101.59,483.24 L102.21,481.75 L102.82,480.23 L103.43,478.69 L104.05,477.13 L104.66,475.54 L105.28,473.93 L105.89,472.30 L106.50,470.64 L107.12,468.97 L107.73,467.27 L108.35,465.55 L108.96,463.81 L109.57,462.06 L110.19,460.28 L110.80,458.49 L111.42,456.68 L112.03,454.85 L112.64,453.01 L113.26,451.15 L113.87,449.29 L114.49,447.40 L115.10,445.51 L115.71,443.61 L116.33,441.69 L116.94,439.77 L117.56,437.84 L118.17,435.91 L118.78,433.97 L119.40,432.02 L120.01,430.07 L120.63,428.12 L121.24,426.17 L121.85,424.21 L122.47,422.26 L123.08,420.31 L123.70,418.36 L124.31,416.41 L124.92,414.47 L125.54,412.53 L126.15,410.60 L126.77,408.67 L127.38,406.75 L127.99,404.84 L128.61,402.94 L129.22,401.05 L129.84,399.18 L130.45,397.31 L131.06,395.45 L131.68,393.61 L132.29,391.79 L132.91,389.98 L133.52,388.18 L134.14,386.40 L134.75,384.64 L135.36,382.90 L135.98,381.18 L136.59,379.47 L137.21,377.79 L137.82,376.13 L138.43,374.49 L139.05,372.88 L139.66,371.28 L140.28,369.72 L140.89,368.17 L141.50,366.65 L142.12,365.16 L142.73,363.69 L143.35,362.25 L143.96,360.84 L144.57,359.45 L145.19,358.09 L145.80,356.76 L146.42,355.46 L147.03,354.18 L147.64,352.93 L148.26,351.71 L148.87,350.52 L149.49,349.36 L150.10,348.23 L150.71,347.12 L151.33,346.05 L151.94,345.00 L152.56,343.98 L153.17,343.00 L153.78,342.04 L154.40,341.11 L155.01,340.21 L155.63,339.34 L156.24,338.50 L156.85,337.69 L157.47,336.91 L158.08,336.16 L158.70,335.43 L159.31,334.74 L159.92,334.08 L160.54,333.44 L161.15,332.84 L161.77,332.26 L162.38,331.72 L162.99,331.20 L163.61,330.72 L164.22,330.26 L164.84,329.83 L165.45,329.43 L166.06,329.06 L166.68,328.72 L167.29,328.40 L167.91,328.12 L168.52,327.86 L169.14,327.63 L169.75,327.43 L170.36,327.25 L170.98,327.11 L171.59,326.99 L172.21,326.90 L172.82,326.84 L173.43,326.80 L174.05,326.79 L174.66,326.80 L175.28,326.84 L175.89,326.91 L176.50,327.00 L177.12,327.12 L177.73,327.27 L178.35,327.43 L178.96,327.63 L179.57,327.84 L180.19,328.08 L180.80,328.35 L181.42,328.63 L182.03,328.94 L182.64,329.27 L183.26,329.63 L183.87,330.00 L184.49,330.40 L185.10,330.82 L185.71,331.26 L186.33,331.72 L186.94,332.19 L187.56,332.69 L188.17,333.21 L188.78,333.74 L189.40,334.29 L190.01,334.86 L190.63,335.45 L191.24,336.06 L191.85,336.68 L192.47,337.31 L193.08,337.96 L193.70,338.63 L194.31,339.31 L194.92,340.01 L195.54,340.71 L196.15,341.44 L196.77,342.17 L197.38,342.92 L197.99,343.68 L198.61,344.46 L199.22,345.24 L199.84,346.04 L200.45,346.84 L201.06,347.66 L201.68,348.49 L202.29,349.33 L202.91,350.18 L203.52,351.03 L204.14,351.90 L204.75,352.77 L205.36,353.66 L205.98,354.55 L206.59,355.45 L207.21,356.35 L207.82,357.27 L208.43,358.19 L209.05,359.12 L209.66,360.05 L210.28,360.99 L210.89,361.94 L211.50,362.89 L212.12,363.85 L212.73,364.81 L213.35,365.78 L213.96,366.75 L214.57,367.73 L215.19,368.71 L215.80,369.70 L216.42,370.69 L217.03,371.68 L217.64,372.68 L218.26,373.68 L218.87,374.68 L219.49,375.69 L220.10,376.70 L220.71,377.71 L221.33,378.72 L221.94,379.74 L222.56,380.76 L223.17,381.78 L223.78,382.80 L224.40,383.83 L225.01,384.85 L225.63,385.88 L226.24,386.91 L226.85,387.94 L227.47,388.97 L228.08,390.00 L228.70,391.03 L229.31,392.07 L229.92,393.10 L230.54,394.13 L231.15,395.16 L231.77,396.20 L232.38,397.23 L232.99,398.26 L233.61,399.29 L234.22,400.32 L234.84,401.35 L235.45,402.37 L236.06,403.40 L236.68,404.42 L237.29,405.44 L237.91,406.46 L238.52,407.48 L239.14,408.49 L239.75,409.51 L240.36,410.51 L240.98,411.52 L241.59,412.52 L242.21,413.52 L242.82,414.51 L243.43,415.50 L244.05,416.48 L244.66,417.47 L245.28,418.44 L245.89,419.41 L246.50,420.38 L247.12,421.33 L247.73,422.29 L248.35,423.23 L248.96,424.18 L249.57,425.11 L250.19,426.04 L250.80,426.96 L251.42,427.87 L252.03,428.77 L252.64,429.67 L253.26,430.56 L253.87,431.44 L254.49,432.31 L255.10,433.17 L255.71,434.02 L256.33,434.87 L256.94,435.70 L257.56,436.53 L258.17,437.34 L258.78,438.15 L259.40,438.94 L260.01,439.73 L260.63,440.51 L261.24,441.27 L261.85,442.03 L262.47,442.77 L263.08,443.51 L263.70,444.23 L264.31,444.95 L264.92,445.65 L265.54,446.35 L266.15,447.03 L266.77,447.70 L267.38,448.37 L267.99,449.02 L268.61,449.67 L269.22,450.30 L269.84,450.93 L270.45,451.54 L271.06,452.15 L271.68,452.75 L272.29,453.34 L272.91,453.92 L273.52,454.49 L274.14,455.05 L274.75,455.61 L275.36,456.16 L275.98,456.70 L276.59,457.23 L277.21,457.76 L277.82,458.28 L278.43,458.79 L279.05,459.30 L279.66,459.81 L280.28,460.30 L280.89,460.80 L281.50,461.29 L282.12,461.77 L282.73,462.25 L283.35,462.73 L283.96,463.21 L284.57,463.68 L285.19,464.15 L285.80,464.62 L286.42,465.09 L287.03,465.56 L287.64,466.03 L288.26,466.51 L288.87,466.98 L289.49,467.45 L290.10,467.93" fill="none" stroke="#8F3439" stroke-width="2.0" stroke-linecap="round" stroke-linejoin="round"/>
</g>
<g stroke="#7c7c7c" stroke-width="0.9" fill="none">
<path d="M373.7,306.5 V533.5 H668.1"/>
<path d="M370.5,533.5 H373.7"/>
<path d="M370.5,495.7 H373.7"/>
<path d="M370.5,457.8 H373.7"/>
<path d="M370.5,420.0 H373.7"/>
<path d="M370.5,382.1 H373.7"/>
<path d="M370.5,344.3 H373.7"/>
<path d="M370.5,306.5 H373.7"/>
<path d="M373.7,533.5 V537.0"/>
<path d="M422.8,533.5 V537.0"/>
<path d="M471.8,533.5 V537.0"/>
<path d="M520.9,533.5 V537.0"/>
<path d="M569.9,533.5 V537.0"/>
<path d="M619.0,533.5 V537.0"/>
<path d="M668.1,533.5 V537.0"/>
</g>
<g font-family="Liberation Sans, sans-serif" font-size="7.9" fill="#0a0a0a" stroke="#0a0a0a" stroke-width="0.22" style="filter:grayscale(1)">
<text x="365.7" y="536.7" text-anchor="end">0</text>
<text x="365.7" y="498.9" text-anchor="end">0.2</text>
<text x="365.7" y="461.0" text-anchor="end">0.4</text>
<text x="365.7" y="423.2" text-anchor="end">0.6</text>
<text x="365.7" y="385.3" text-anchor="end">0.8</text>
<text x="365.7" y="347.5" text-anchor="end">1</text>
<text x="365.7" y="309.7" text-anchor="end">1.2</text>
<text x="373.9" y="548.1" text-anchor="middle">0</text>
<text x="423.0" y="548.1" text-anchor="middle">2</text>
<text x="472.0" y="548.1" text-anchor="middle">4</text>
<text x="521.1" y="548.1" text-anchor="middle">6</text>
<text x="570.1" y="548.1" text-anchor="middle">8</text>
<text x="619.2" y="548.1" text-anchor="middle">10</text>
</g>
<clipPath id="cpd"><rect x="370.7" y="294.5" width="300.4" height="239.3"/></clipPath>
<g clip-path="url(#cpd)">
<path d="M373.70,533.50 L374.31,528.82 L374.93,524.26 L375.54,519.82 L376.16,515.48 L376.77,511.25 L377.39,507.12 L378.00,503.10 L378.62,499.18 L379.23,495.35 L379.85,491.62 L380.46,487.98 L381.08,484.43 L381.69,480.97 L382.31,477.59 L382.92,474.30 L383.54,471.09 L384.15,467.96 L384.77,464.91 L385.38,461.93 L386.00,459.02 L386.61,456.19 L387.23,453.43 L387.84,450.73 L388.45,448.11 L389.07,445.55 L389.68,443.05 L390.30,440.61 L390.91,438.23 L391.53,435.91 L392.14,433.65 L392.76,431.45 L393.37,429.30 L393.99,427.20 L394.60,425.16 L395.22,423.16 L395.83,421.22 L396.45,419.32 L397.06,417.47 L397.68,415.67 L398.29,413.91 L398.91,412.19 L399.52,410.52 L400.14,408.89 L400.75,407.30 L401.37,405.74 L401.98,404.23 L402.59,402.75 L403.21,401.31 L403.82,399.91 L404.44,398.54 L405.05,397.20 L405.67,395.90 L406.28,394.63 L406.90,393.39 L407.51,392.18 L408.13,391.01 L408.74,389.86 L409.36,388.74 L409.97,387.64 L410.59,386.58 L411.20,385.54 L411.82,384.53 L412.43,383.54 L413.05,382.57 L413.66,381.63 L414.28,380.72 L414.89,379.82 L415.51,378.95 L416.12,378.10 L416.74,377.27 L417.35,376.46 L417.96,375.67 L418.58,374.90 L419.19,374.15 L419.81,373.42 L420.42,372.71 L421.04,372.01 L421.65,371.33 L422.27,370.67 L422.88,370.02 L423.50,369.39 L424.11,368.78 L424.73,368.18 L425.34,367.60 L425.96,367.03 L426.57,366.47 L427.19,365.93 L427.80,365.40 L428.42,364.89 L429.03,364.38 L429.65,363.89 L430.26,363.42 L430.88,362.95 L431.49,362.49 L432.10,362.05 L432.72,361.62 L433.33,361.20 L433.95,360.79 L434.56,360.39 L435.18,359.99 L435.79,359.61 L436.41,359.24 L437.02,358.88 L437.64,358.52 L438.25,358.18 L438.87,357.84 L439.48,357.51 L440.10,357.19 L440.71,356.88 L441.33,356.58 L441.94,356.28 L442.56,355.99 L443.17,355.71 L443.79,355.43 L444.40,355.17 L445.02,354.90 L445.63,354.65 L446.24,354.40 L446.86,354.16 L447.47,353.92 L448.09,353.69 L448.70,353.46 L449.32,353.24 L449.93,353.03 L450.55,352.82 L451.16,352.62 L451.78,352.42 L452.39,352.22 L453.01,352.03 L453.62,351.85 L454.24,351.67 L454.85,351.49 L455.47,351.32 L456.08,351.16 L456.70,350.99 L457.31,350.84 L457.93,350.68 L458.54,350.53 L459.16,350.38 L459.77,350.24 L460.38,350.10 L461.00,349.96 L461.61,349.83 L462.23,349.70 L462.84,349.57 L463.46,349.45 L464.07,349.33 L464.69,349.21 L465.30,349.10 L465.92,348.99 L466.53,348.88 L467.15,348.77 L467.76,348.67 L468.38,348.57 L468.99,348.47 L469.61,348.37 L470.22,348.28 L470.84,348.19 L471.45,348.10 L472.07,348.01 L472.68,347.92 L473.30,347.84 L473.91,347.76 L474.53,347.68 L475.14,347.61 L475.75,347.53 L476.37,347.46 L476.98,347.39 L477.60,347.32 L478.21,347.25 L478.83,347.18 L479.44,347.12 L480.06,347.06 L480.67,347.00 L481.29,346.94 L481.90,346.88 L482.52,346.82 L483.13,346.77 L483.75,346.71 L484.36,346.66 L484.98,346.61 L485.59,346.56 L486.21,346.51 L486.82,346.46 L487.44,346.41 L488.05,346.37 L488.67,346.33 L489.28,346.28 L489.89,346.24 L490.51,346.20 L491.12,346.16 L491.74,346.12 L492.35,346.08 L492.97,346.04 L493.58,346.01 L494.20,345.97 L494.81,345.94 L495.43,345.91 L496.04,345.87 L496.66,345.84 L497.27,345.81 L497.89,345.78 L498.50,345.75 L499.12,345.72 L499.73,345.69 L500.35,345.67 L500.96,345.64 L501.58,345.61 L502.19,345.59 L502.81,345.56 L503.42,345.54 L504.03,345.51 L504.65,345.49 L505.26,345.47 L505.88,345.45 L506.49,345.43 L507.11,345.40 L507.72,345.38 L508.34,345.36 L508.95,345.35 L509.57,345.33 L510.18,345.31 L510.80,345.29 L511.41,345.27 L512.03,345.26 L512.64,345.24 L513.26,345.22 L513.87,345.21 L514.49,345.19 L515.10,345.18 L515.72,345.16 L516.33,345.15 L516.95,345.13 L517.56,345.12 L518.17,345.11 L518.79,345.09 L519.40,345.08 L520.02,345.07 L520.63,345.06 L521.25,345.05 L521.86,345.03 L522.48,345.02 L523.09,345.01 L523.71,345.00 L524.32,344.99 L524.94,344.98 L525.55,344.97 L526.17,344.96 L526.78,344.95 L527.40,344.94 L528.01,344.93 L528.63,344.93 L529.24,344.92 L529.86,344.91 L530.47,344.90 L531.09,344.89 L531.70,344.89 L532.32,344.88 L532.93,344.87 L533.54,344.86 L534.16,344.86 L534.77,344.85 L535.39,344.84 L536.00,344.84 L536.62,344.83 L537.23,344.82 L537.85,344.82 L538.46,344.81 L539.08,344.81 L539.69,344.80 L540.31,344.80 L540.92,344.79 L541.54,344.79 L542.15,344.78 L542.77,344.78 L543.38,344.77 L544.00,344.77 L544.61,344.76 L545.23,344.76 L545.84,344.75 L546.46,344.75 L547.07,344.74 L547.68,344.74 L548.30,344.74 L548.91,344.73 L549.53,344.73 L550.14,344.73 L550.76,344.72 L551.37,344.72 L551.99,344.72 L552.60,344.71 L553.22,344.71 L553.83,344.71 L554.45,344.70 L555.06,344.70 L555.68,344.70 L556.29,344.69 L556.91,344.69 L557.52,344.69 L558.14,344.69 L558.75,344.68 L559.37,344.68 L559.98,344.68 L560.60,344.68 L561.21,344.67 L561.82,344.67 L562.44,344.67 L563.05,344.67 L563.67,344.67 L564.28,344.66 L564.90,344.66 L565.51,344.66 L566.13,344.66 L566.74,344.66 L567.36,344.65 L567.97,344.65 L568.59,344.65 L569.20,344.65 L569.82,344.65 L570.43,344.65 L571.05,344.64 L571.66,344.64 L572.28,344.64 L572.89,344.64 L573.51,344.64 L574.12,344.64 L574.74,344.64 L575.35,344.63 L575.96,344.63 L576.58,344.63 L577.19,344.63 L577.81,344.63 L578.42,344.63 L579.04,344.63 L579.65,344.63 L580.27,344.63 L580.88,344.62 L581.50,344.62 L582.11,344.62 L582.73,344.62 L583.34,344.62 L583.96,344.62 L584.57,344.62 L585.19,344.62 L585.80,344.62 L586.42,344.62 L587.03,344.62 L587.65,344.61 L588.26,344.61 L588.88,344.61 L589.49,344.61 L590.11,344.61 L590.72,344.61 L591.33,344.61 L591.95,344.61 L592.56,344.61 L593.18,344.61 L593.79,344.61 L594.41,344.61 L595.02,344.61 L595.64,344.61 L596.25,344.61 L596.87,344.60 L597.48,344.60 L598.10,344.60 L598.71,344.60 L599.33,344.60 L599.94,344.60 L600.56,344.60 L601.17,344.60 L601.79,344.60 L602.40,344.60 L603.02,344.60 L603.63,344.60 L604.25,344.60 L604.86,344.60 L605.47,344.60 L606.09,344.60 L606.70,344.60 L607.32,344.60 L607.93,344.60 L608.55,344.60 L609.16,344.60 L609.78,344.60 L610.39,344.60 L611.01,344.60 L611.62,344.60 L612.24,344.60 L612.85,344.59 L613.47,344.59 L614.08,344.59 L614.70,344.59 L615.31,344.59 L615.93,344.59 L616.54,344.59 L617.16,344.59 L617.77,344.59 L618.39,344.59 L619.00,344.59" fill="none" stroke="#3F6491" stroke-width="2.2" stroke-linecap="round" stroke-linejoin="round"/>
<path d="M373.70,533.50 L374.19,533.50 L374.69,533.48 L375.18,533.47 L375.68,533.44 L376.17,533.42 L376.67,533.39 L377.16,533.36 L377.66,533.32 L378.15,533.26 L378.65,533.20 L379.14,533.13 L379.64,533.06 L380.13,532.98 L380.63,532.89 L381.12,532.80 L381.62,532.69 L382.11,532.58 L382.61,532.46 L383.10,532.33 L383.59,532.20 L384.09,532.06 L384.58,531.92 L385.08,531.78 L385.57,531.63 L386.07,531.48 L386.56,531.32 L387.06,531.16 L387.55,530.98 L388.05,530.79 L388.54,530.60 L389.04,530.40 L389.53,530.20 L390.03,529.99 L390.52,529.79 L391.02,529.58 L391.51,529.38 L392.00,529.18 L392.50,528.99 L392.99,528.80 L393.49,528.60 L393.98,528.40 L394.48,528.21 L394.97,528.01 L395.47,527.81 L395.96,527.62 L396.46,527.42 L396.95,527.21 L397.45,527.01 L397.94,526.81 L398.44,526.60 L398.93,526.40 L399.43,526.20 L399.92,526.01 L400.42,525.81 L400.91,525.61 L401.40,525.41 L401.90,525.20 L402.39,524.98 L402.89,524.76 L403.38,524.53 L403.88,524.29 L404.37,524.03 L404.87,523.77 L405.36,523.49 L405.86,523.20 L406.35,522.90 L406.85,522.58 L407.34,522.26 L407.84,521.92 L408.33,521.57 L408.83,521.21 L409.32,520.83 L409.81,520.44 L410.31,520.03 L410.80,519.61 L411.30,519.17 L411.79,518.70 L412.29,518.20 L412.78,517.69 L413.28,517.15 L413.77,516.59 L414.27,516.02 L414.76,515.43 L415.26,514.82 L415.75,514.20 L416.25,513.56 L416.74,512.92 L417.24,512.25 L417.73,511.55 L418.23,510.83 L418.72,510.08 L419.21,509.31 L419.71,508.51 L420.20,507.70 L420.70,506.87 L421.19,506.02 L421.69,505.15 L422.18,504.27 L422.68,503.38 L423.17,502.47 L423.67,501.52 L424.16,500.55 L424.66,499.54 L425.15,498.52 L425.65,497.47 L426.14,496.40 L426.64,495.32 L427.13,494.22 L427.62,493.10 L428.12,491.98 L428.61,490.83 L429.11,489.66 L429.60,488.47 L430.10,487.25 L430.59,486.02 L431.09,484.77 L431.58,483.50 L432.08,482.21 L432.57,480.90 L433.20,482.92 L433.82,485.07 L434.44,487.17 L435.07,489.17 L435.69,491.12 L436.31,493.06 L436.94,494.97 L437.56,496.86 L438.18,498.69 L438.81,500.47 L439.43,502.18 L440.05,503.80 L440.68,505.34 L441.30,506.77 L441.92,508.13 L442.55,509.46 L443.17,510.74 L443.80,511.98 L444.42,513.16 L445.04,514.28 L445.67,515.34 L446.29,516.34 L446.91,517.27 L447.54,518.13 L448.16,518.95 L448.78,519.73 L449.41,520.47 L450.03,521.18 L450.65,521.85 L451.28,522.49 L451.90,523.09 L452.52,523.66 L453.15,524.19 L453.77,524.70 L454.39,525.18 L455.02,525.65 L455.64,526.09 L456.27,526.52 L456.89,526.92 L457.51,527.30 L458.14,527.66 L458.76,528.00 L459.38,528.31 L460.01,528.60 L460.63,528.88 L461.25,529.15 L461.88,529.40 L462.50,529.65 L463.12,529.88 L463.75,530.09 L464.37,530.29 L464.99,530.48 L465.62,530.64 L466.24,530.80 L466.86,530.95 L467.49,531.09 L468.11,531.23 L468.74,531.35 L469.36,531.47 L469.98,531.58 L470.61,531.68 L471.23,531.78 L471.85,531.86 L472.48,531.94 L473.10,532.01 L473.72,532.08 L474.35,532.15 L474.97,532.22 L475.59,532.29 L476.22,532.35 L476.84,532.41 L477.46,532.47 L478.09,532.53 L478.71,532.58 L479.33,532.63 L479.96,532.68 L480.58,532.73 L481.21,532.77 L481.83,532.81 L482.45,532.85 L483.08,532.88 L483.70,532.91 L484.32,532.94 L484.95,532.97 L485.57,533.00 L486.19,533.02 L486.82,533.05 L487.44,533.07 L488.06,533.10 L488.69,533.12 L489.31,533.14 L489.93,533.16 L490.56,533.18 L491.18,533.20 L491.80,533.22 L492.43,533.23 L493.05,533.25 L493.68,533.26 L494.30,533.28 L494.92,533.29 L495.55,533.30 L496.17,533.31 L496.79,533.32 L497.42,533.32 L498.04,533.33 L498.66,533.34 L499.29,533.35 L499.91,533.36 L500.53,533.36 L501.16,533.37 L501.78,533.38 L502.40,533.39 L503.03,533.39 L503.65,533.40 L504.28,533.41 L504.90,533.41 L505.52,533.42 L506.15,533.42 L506.77,533.43 L507.39,533.44 L508.02,533.44 L508.64,533.45 L509.26,533.45 L509.89,533.46 L510.51,533.46 L511.13,533.46 L511.76,533.47 L512.38,533.47 L513.00,533.48 L513.63,533.48 L514.25,533.48 L514.87,533.49 L515.50,533.49 L516.12,533.49 L516.75,533.49 L517.37,533.50 L517.99,533.50 L518.62,533.50 L519.24,533.50 L519.86,533.50 L520.49,533.50 L521.11,533.50 L521.73,533.50 L522.36,533.50 L522.98,533.50 L523.60,533.50 L524.23,533.50 L524.85,533.50 L525.47,533.50 L526.10,533.50 L526.72,533.50 L527.34,533.50 L527.97,533.50 L528.59,533.50 L529.22,533.50 L529.84,533.50 L530.46,533.50 L531.09,533.50 L531.71,533.50 L532.33,533.50 L532.96,533.50 L533.58,533.50 L534.20,533.50 L534.83,533.50 L535.45,533.50 L536.07,533.50 L536.70,533.50 L537.32,533.50 L537.94,533.50 L538.57,533.50 L539.19,533.50 L539.81,533.50 L540.44,533.50 L541.06,533.50 L541.69,533.50 L542.31,533.50 L542.93,533.50 L543.56,533.50 L544.18,533.50 L544.80,533.50 L545.43,533.50 L546.05,533.50 L546.67,533.50 L547.30,533.50 L547.92,533.50 L548.54,533.50 L549.17,533.50 L549.79,533.50 L550.41,533.50 L551.04,533.50 L551.66,533.50 L552.28,533.50 L552.91,533.50 L553.53,533.50 L554.16,533.50 L554.78,533.50 L555.40,533.50 L556.03,533.50 L556.65,533.50 L557.27,533.50 L557.90,533.50 L558.52,533.50 L559.14,533.50 L559.77,533.50 L560.39,533.50 L561.01,533.50 L561.64,533.50 L562.26,533.50 L562.88,533.50 L563.51,533.50 L564.13,533.50 L564.76,533.50 L565.38,533.50 L566.00,533.50 L566.63,533.50 L567.25,533.50 L567.87,533.50 L568.50,533.50 L569.12,533.50 L569.74,533.50 L570.37,533.50 L570.99,533.50 L571.61,533.50 L572.24,533.50 L572.86,533.50 L573.48,533.50 L574.11,533.50 L574.73,533.50 L575.35,533.50 L575.98,533.50 L576.60,533.50 L577.23,533.50 L577.85,533.50 L578.47,533.50 L579.10,533.50 L579.72,533.50 L580.34,533.50 L580.97,533.50 L581.59,533.50 L582.21,533.50 L582.84,533.50 L583.46,533.50 L584.08,533.50 L584.71,533.50 L585.33,533.50 L585.95,533.50 L586.58,533.50 L587.20,533.50 L587.82,533.50 L588.45,533.50 L589.07,533.50 L589.70,533.50 L590.32,533.50 L590.94,533.50 L591.57,533.50 L592.19,533.50 L592.81,533.50 L593.44,533.50 L594.06,533.50 L594.68,533.50 L595.31,533.50 L595.93,533.50 L596.55,533.50 L597.18,533.50 L597.80,533.50 L598.42,533.50 L599.05,533.50 L599.67,533.50 L600.29,533.50 L600.92,533.50 L601.54,533.50 L602.17,533.50 L602.79,533.50 L603.41,533.50 L604.04,533.50 L604.66,533.50 L605.28,533.50 L605.91,533.50 L606.53,533.50 L607.15,533.50 L607.78,533.50 L608.40,533.50 L609.02,533.50 L609.65,533.50 L610.27,533.50 L610.89,533.50 L611.52,533.50 L612.14,533.50 L612.76,533.50 L613.39,533.50 L614.01,533.50 L614.64,533.50 L615.26,533.50 L615.88,533.50 L616.51,533.50 L617.13,533.50 L617.75,533.50 L618.38,533.50 L619.00,533.50" fill="none" stroke="#8F3439" stroke-width="2.05" stroke-linecap="round" stroke-linejoin="round"/>
</g>
<path d="M258.2,524.41 H290.1" stroke="#3a4452" stroke-width="2.1" stroke-linecap="round" fill="none"/>
<g font-family="Liberation Sans, sans-serif" font-weight="bold" font-size="19" fill="#000" style="filter:grayscale(1)">
<text x="22.3" y="15.5">a.</text>
<text x="350.3" y="15.2">b.</text>
<text x="22.4" y="295.2">c.</text>
<text x="354.2" y="295.1">d.</text>
</g>
<g fill="#000">
<rect x="7.3" y="32.3" width="1.9" height="134.7"/>
<rect x="7.3" y="373.5" width="1.9" height="156"/>
<rect x="45" y="570.5" width="279.6" height="2"/>
<rect x="417.4" y="570.5" width="251.6" height="2"/>
</g>
<g font-family="Liberation Sans, sans-serif" font-weight="bold" font-size="14" fill="#000" stroke="#000" stroke-width="0.3" style="filter:grayscale(1)">
<text x="335.3" y="576.4" textLength="69.7" lengthAdjust="spacingAndGlyphs">Time Units</text>
<text transform="translate(13.3,354.5) rotate(-90)" textLength="168.5" lengthAdjust="spacingAndGlyphs">Relative Expression Levels</text>
</g>
<path d="M627.3,21.2 H645.6" stroke="#3F6491" stroke-width="1.9"/>
<path d="M627.3,37.6 H645.6" stroke="#8F3439" stroke-width="1.9"/>
<g font-family="Liberation Sans, sans-serif" font-size="7.7" fill="#1a1a1a" stroke="#1a1a1a" stroke-width="0.15" style="filter:grayscale(1)">
<text x="646.8" y="23.9" textLength="35.8" lengthAdjust="spacingAndGlyphs">miR-17-3p</text>
<text x="646.8" y="40.0" textLength="31.2" lengthAdjust="spacingAndGlyphs">Vimentin</text>
</g>
</svg>
</body></html>
